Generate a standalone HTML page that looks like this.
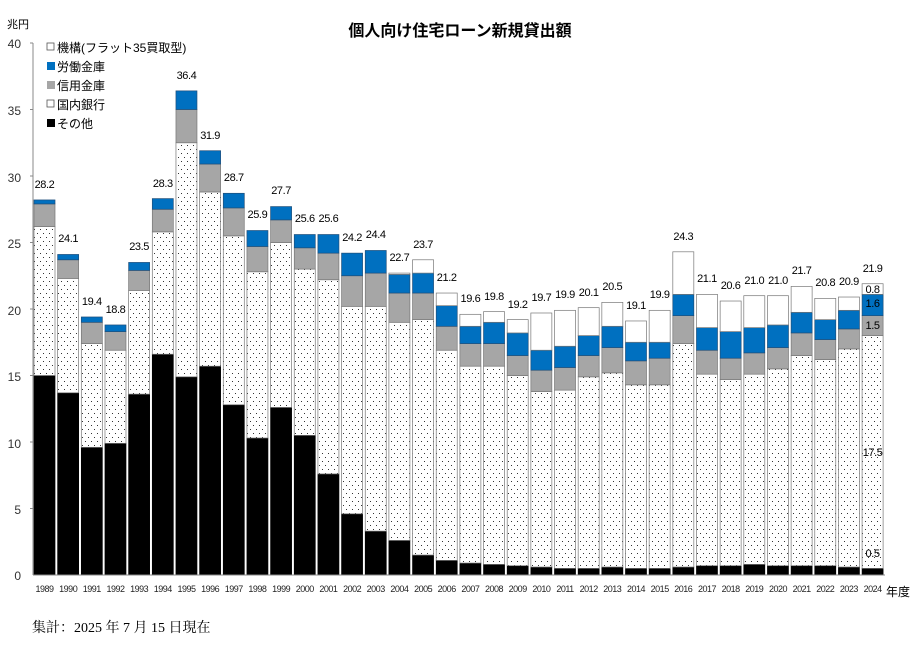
<!DOCTYPE html>
<html><head><meta charset="utf-8"><style>
html,body{margin:0;padding:0;background:#fff;width:920px;height:647px;overflow:hidden}
svg text{font-family:"Liberation Sans","Noto Sans CJK JP",sans-serif}
</style></head><body>
<svg id="c" width="920" height="647" xmlns="http://www.w3.org/2000/svg">
<defs>
<pattern id="dots" width="6" height="8" patternUnits="userSpaceOnUse">
<rect width="6" height="8" fill="#fff"/>
<rect x="1" y="1" width="1" height="1" fill="#333"/>
<rect x="4" y="5" width="1" height="1" fill="#333"/>
</pattern>
</defs>
<text x="460" y="36" text-anchor="middle" font-size="16" font-weight="bold">個人向け住宅ローン新規貸出額</text>
<text x="7" y="28" font-size="11">兆円</text>
<g font-size="12" fill="#333" text-anchor="end">
<text x="21" y="48">40</text><text x="21" y="115">35</text><text x="21" y="182">30</text>
<text x="21" y="248">25</text><text x="21" y="315">20</text><text x="21" y="381">15</text>
<text x="21" y="448">10</text><text x="21" y="514">5</text><text x="21" y="580">0</text>
</g>
<g id="bars"></g>
<line x1="33" y1="43" x2="33" y2="575" stroke="#888" stroke-width="1"/>
<line x1="33" y1="575" x2="885" y2="575" stroke="#888" stroke-width="1"/>
<g stroke="#888"><line x1="30" y1="43" x2="33" y2="43"/><line x1="30" y1="109.5" x2="33" y2="109.5"/><line x1="30" y1="176" x2="33" y2="176"/><line x1="30" y1="242.5" x2="33" y2="242.5"/><line x1="30" y1="309" x2="33" y2="309"/><line x1="30" y1="375.5" x2="33" y2="375.5"/><line x1="30" y1="442" x2="33" y2="442"/><line x1="30" y1="508.5" x2="33" y2="508.5"/></g>
<g font-size="12">
<rect x="47" y="43" width="7" height="7" fill="#fff" stroke="#555" stroke-width="0.8"/><text x="57" y="52">機構(フラット35買取型)</text>
<rect x="47" y="62" width="8" height="8" fill="#0070c0"/><text x="57" y="71">労働金庫</text>
<rect x="47" y="81" width="8" height="8" fill="#a6a6a6"/><text x="57" y="90">信用金庫</text>
<rect x="47" y="100" width="7" height="7" fill="#fff" stroke="#555" stroke-width="0.8"/><text x="57" y="109">国内銀行</text>
<rect x="47" y="119" width="8" height="8" fill="#000"/><text x="57" y="128">その他</text>
</g>
<g font-size="11" text-anchor="middle" letter-spacing="-0.4">
<text x="44.5" y="188">28.2</text><text x="68.2" y="242">24.1</text><text x="91.8" y="305">19.4</text><text x="115.5" y="313">18.8</text>
<text x="139.1" y="250">23.5</text><text x="162.8" y="187">28.3</text><text x="186.5" y="79">36.4</text><text x="210.1" y="139">31.9</text>
<text x="233.8" y="181">28.7</text><text x="257.4" y="218">25.9</text><text x="281.1" y="194">27.7</text><text x="304.8" y="222">25.6</text>
<text x="328.4" y="222">25.6</text><text x="352.1" y="241">24.2</text><text x="375.7" y="238">24.4</text><text x="399.4" y="261">22.7</text>
<text x="423.1" y="248">23.7</text><text x="446.7" y="281">21.2</text><text x="470.4" y="302">19.6</text><text x="494.0" y="300">19.8</text>
<text x="517.7" y="308">19.2</text><text x="541.4" y="301">19.7</text><text x="565.0" y="298">19.9</text><text x="588.7" y="296">20.1</text>
<text x="612.3" y="290">20.5</text><text x="636.0" y="309">19.1</text><text x="659.7" y="298">19.9</text><text x="683.3" y="240">24.3</text>
<text x="707.0" y="282">21.1</text><text x="730.6" y="289">20.6</text><text x="754.3" y="284">21.0</text><text x="778.0" y="284">21.0</text>
<text x="801.6" y="274">21.7</text><text x="825.3" y="286">20.8</text><text x="848.9" y="285">20.9</text><text x="872.6" y="272">21.9</text>
<text x="872.6" y="293">0.8</text><text x="872.6" y="307">1.6</text><text x="872.6" y="329">1.5</text><text x="872.6" y="456">17.5</text><text x="872.6" y="557">0.5</text>
</g>
<g font-size="9" text-anchor="middle" fill="#222" letter-spacing="-0.5">
<text x="44.5" y="592">1989</text><text x="68.2" y="592">1990</text><text x="91.8" y="592">1991</text><text x="115.5" y="592">1992</text>
<text x="139.1" y="592">1993</text><text x="162.8" y="592">1994</text><text x="186.5" y="592">1995</text><text x="210.1" y="592">1996</text>
<text x="233.8" y="592">1997</text><text x="257.4" y="592">1998</text><text x="281.1" y="592">1999</text><text x="304.8" y="592">2000</text>
<text x="328.4" y="592">2001</text><text x="352.1" y="592">2002</text><text x="375.7" y="592">2003</text><text x="399.4" y="592">2004</text>
<text x="423.1" y="592">2005</text><text x="446.7" y="592">2006</text><text x="470.4" y="592">2007</text><text x="494.0" y="592">2008</text>
<text x="517.7" y="592">2009</text><text x="541.4" y="592">2010</text><text x="565.0" y="592">2011</text><text x="588.7" y="592">2012</text>
<text x="612.3" y="592">2013</text><text x="636.0" y="592">2014</text><text x="659.7" y="592">2015</text><text x="683.3" y="592">2016</text>
<text x="707.0" y="592">2017</text><text x="730.6" y="592">2018</text><text x="754.3" y="592">2019</text><text x="778.0" y="592">2020</text>
<text x="801.6" y="592">2021</text><text x="825.3" y="592">2022</text><text x="848.9" y="592">2023</text><text x="872.6" y="592">2024</text>
</g>
<text x="886" y="596" font-size="12">年度</text>
<text x="32" y="632" font-size="14" style="font-family:'Liberation Serif','Noto Serif CJK SC',serif">集計：2025 年 7 月 15 日現在</text>
</svg>
<script>
var d=[[15,26.2,27.9,28.2,28.2],[13.7,22.3,23.7,24.1,24.1],[9.6,17.4,19,19.4,19.4],[9.9,16.9,18.3,18.8,18.8],
[13.6,21.4,22.9,23.5,23.5],[16.6,25.8,27.5,28.3,28.3],[14.9,32.5,35,36.4,36.4],[15.7,28.8,30.9,31.9,31.9],
[12.8,25.5,27.6,28.7,28.7],[10.3,22.8,24.7,25.9,25.9],[12.6,25,26.7,27.7,27.7],[10.5,23,24.6,25.6,25.6],
[7.6,22.2,24.2,25.6,25.6],[4.6,20.2,22.5,24.2,24.2],[3.3,20.2,22.7,24.4,24.4],[2.6,19,21.2,22.6,22.7],
[1.5,19.2,21.2,22.7,23.7],[1.1,16.9,18.7,20.25,21.2],[0.9,15.7,17.4,18.7,19.6],[0.8,15.7,17.4,19,19.8],
[0.7,15,16.5,18.2,19.2],[0.6,13.8,15.4,16.9,19.7],[0.5,13.9,15.6,17.2,19.9],[0.5,14.9,16.5,18,20.1],
[0.6,15.2,17.1,18.7,20.5],[0.5,14.3,16.1,17.5,19.1],[0.5,14.3,16.3,17.5,19.9],[0.6,17.4,19.5,21.1,24.3],
[0.7,15.1,16.9,18.6,21.1],[0.7,14.7,16.3,18.3,20.6],[0.8,15.1,16.7,18.6,21],[0.7,15.5,17.1,18.8,21],
[0.7,16.5,18.2,19.75,21.7],[0.7,16.2,17.7,19.2,20.8],[0.6,17,18.5,19.9,20.9],[0.5,18,19.5,21.1,21.9]];
var fills=["#000","url(#dots)","#a6a6a6","#0070c0","#fff"],ns="http://www.w3.org/2000/svg",g=document.getElementById("bars");
function Y(v){return 575-13.3*v}
d.forEach(function(r,i){var x=34+i*23.66,prev=0;
for(var k=0;k<5;k++){var v=r[k];if(v-prev>0.001){var e=document.createElementNS(ns,"rect");
e.setAttribute("x",x);e.setAttribute("width",21);e.setAttribute("y",Y(v));e.setAttribute("height",Y(prev)-Y(v));
e.setAttribute("fill",fills[k]);e.setAttribute("stroke",k==0?"#000":(k==3?"#1f4e79":"#777"));e.setAttribute("stroke-width","0.7");g.appendChild(e);}prev=v;}});
</script>
</body></html>
